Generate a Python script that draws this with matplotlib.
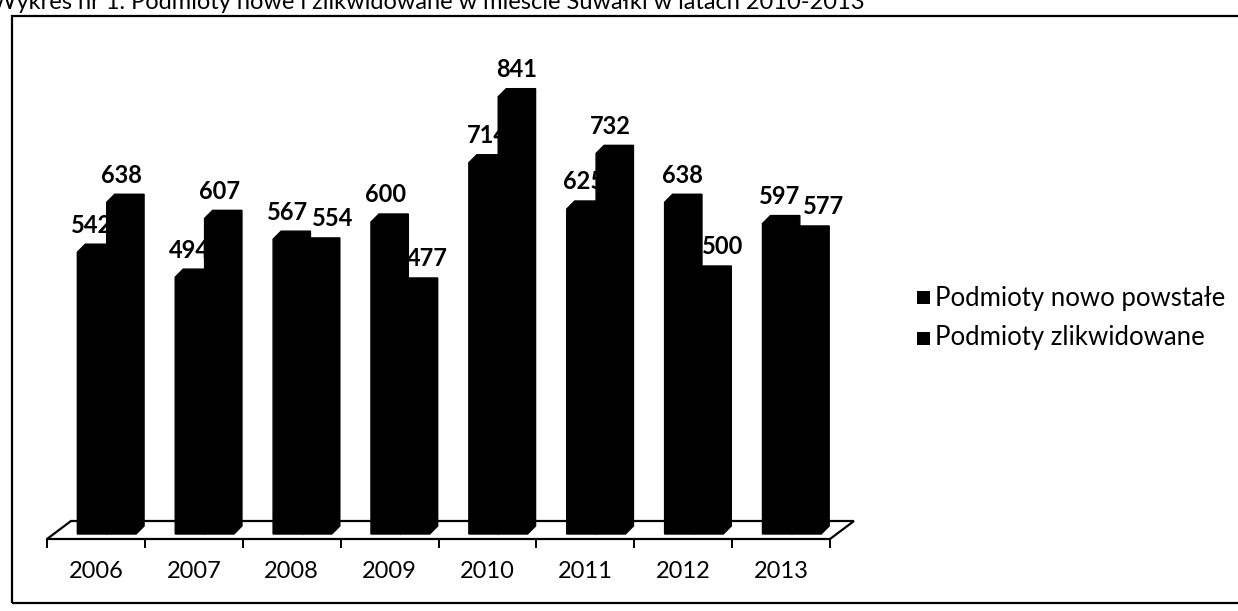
import matplotlib
matplotlib.use("Agg")
import matplotlib.pyplot as plt
from matplotlib.patches import Polygon, Rectangle

years = ["2006", "2007", "2008", "2009", "2010", "2011", "2012", "2013"]
nowe = [542, 494, 567, 600, 714, 625, 638, 597]
zlikwidowane = [638, 607, 554, 477, 841, 732, 500, 577]
series_names = ["Podmioty nowo powstałe", "Podmioty zlikwidowane"]
title = "Wykres nr 1. Podmioty nowe i zlikwidowane w mieście Suwałki w latach 2010-2013"

# small horizontal nudges (px) of the value labels, as in the scan
label_shift = [
    [0, 0, 0, 0, 4, 2, 3, 2],
    [0, 0, 15, 12, 4, 0, 14, 17],
]

plt.rcParams["font.family"] = ["Lato", "DejaVu Sans"]

W, H, DPI = 1238, 611, 100
fig = plt.figure(figsize=(W / DPI, H / DPI), dpi=DPI)
fig.patch.set_facecolor("white")

# axes placed so one value unit is ~0.52 px, like the scan
ky = 0.52
ymin, ymax = -40, 900
ax_left, ax_w = 47, 783
base_px = 77
ax = fig.add_axes([ax_left / W, (base_px + ymin * ky) / H, ax_w / W, (ymax - ymin) * ky / H])
n = len(years)
ax.set_xlim(0, n)
ax.set_ylim(ymin, ymax)
ax.axis("off")

kx = ax_w / n


def dx(p):
    return p / kx


def dy(p):
    return p / ky


# floor in pseudo 3D
fy = -dy(5)
fdx, fdy = dx(24), dy(18)
floor = Polygon([(0, fy), (n, fy), (n + fdx, fy + fdy), (fdx, fy + fdy)],
                closed=True, facecolor="white", edgecolor="black", lw=1.6,
                zorder=1, clip_on=False)
ax.add_patch(floor)
for i in range(n + 1):
    ax.plot([i, i], [fy, fy - dy(8)], color="black", lw=1.4, clip_on=False, zorder=1)

for i, y in enumerate(years):
    ax.annotate(y, (i + 0.5, 0), xytext=(0, -38 * 72 / DPI), textcoords="offset points",
                ha="center", va="center", fontsize=17, annotation_clip=False)

# bars as black boxes with small depth
bw = 0.3
bdx, bdy = dx(8), dy(8)
for s, vals in enumerate([nowe, zlikwidowane]):
    for i, v in enumerate(vals):
        x0 = i + 0.31 + s * bw
        x1 = x0 + bw
        box = Polygon([(x0, 0), (x0, v), (x0 + bdx, v + bdy), (x1 + bdx, v + bdy),
                       (x1 + bdx, bdy), (x1, 0)], closed=True, facecolor="black",
                      edgecolor="black", lw=1, zorder=3, clip_on=False)
        ax.add_patch(box)
        ax.annotate(str(v), ((x0 + x1) / 2, v),
                    xytext=(label_shift[s][i] * 72 / DPI, 27 * 72 / DPI),
                    textcoords="offset points", ha="center", va="center",
                    fontsize=17, fontweight="bold", zorder=2, annotation_clip=False)

# legend
for k, name in enumerate(series_names):
    cy = 298 + k * 40
    fig.add_artist(Rectangle((917 / W, 1 - (cy + 6.5) / H), 13 / W, 13 / H,
                             transform=fig.transFigure, facecolor="black", edgecolor="none"))
    fig.text(935 / W, 1 - cy / H, name, ha="left", va="center", fontsize=18.5)

# frame and clipped title
fig.add_artist(Rectangle((12 / W, 1 - 603 / H), 1240 / W, 587 / H, transform=fig.transFigure,
                         facecolor="none", edgecolor="black", lw=1.6))
fig.text(-8 / W, 1 - 9 / H, title, ha="left", va="baseline", fontsize=17)

fig.savefig("out.png", dpi=DPI)
plt.close(fig)
